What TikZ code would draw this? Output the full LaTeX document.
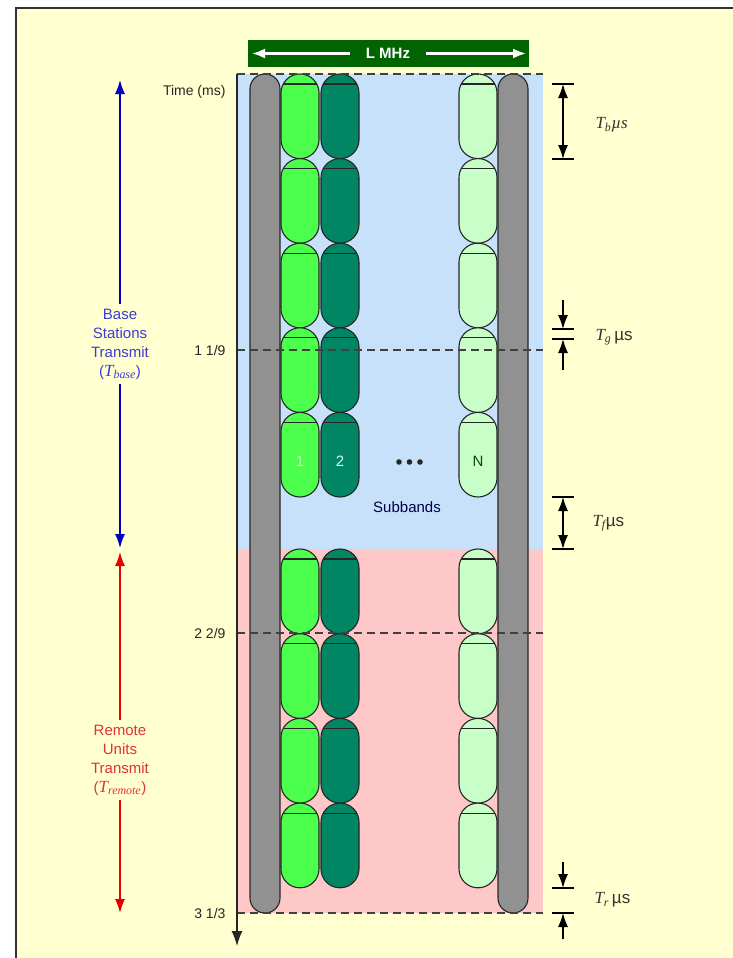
\documentclass[tikz,border=0pt]{standalone}
\usepackage{fontspec}
\setsansfont{Liberation Sans}
\newfontfamily\timesfont{Liberation Serif}
\usetikzlibrary{arrows.meta}

\definecolor{paper}{RGB}{255,255,208}
\definecolor{baseblue}{RGB}{200,225,250}
\definecolor{remotepink}{RGB}{255,200,200}
\definecolor{guardgray}{RGB}{145,145,145}
\definecolor{bandone}{RGB}{76,255,76}
\definecolor{bandtwo}{RGB}{0,134,98}
\definecolor{bandn}{RGB}{200,255,200}
\definecolor{header}{RGB}{0,100,0}
\definecolor{basetext}{RGB}{60,60,215}
\definecolor{remotetext}{RGB}{225,50,50}

\begin{document}
\begin{tikzpicture}[x=1pt, y=-1pt,
    capsule/.style={draw=black!85, line width=1.1pt, rounded corners=18.9pt},
    guard/.style={draw=black!85, line width=1.1pt, fill=guardgray, rounded corners=14.9pt},
    tick/.style={font=\fontsize{14}{16}\selectfont\sffamily, anchor=east, text=black!85},
    span/.style={font=\fontsize{15}{19}\selectfont\sffamily, align=center, inner sep=5pt},
    dimlabel/.style={font=\fontsize{17}{19}\selectfont, anchor=west, text=black!80},
    bar/.style={line width=1.3pt},
    tip/.style={line width=1.3pt, -{Latex[length=14pt,width=10pt]}},
    twotip/.style={line width=1.3pt, {Latex[length=14pt,width=10pt]}-{Latex[length=14pt,width=10pt]}}]
    \useasboundingbox (0,0) rectangle (733,958);

    % Page
    \fill[white] (0,0) rectangle (733,958);
    \fill[paper] (16,8) rectangle (733,958);
    \draw[black!80, line width=1.5pt] (16,958) -- (16,8) -- (733,8);

    % Transmit periods
    \fill[baseblue] (237,74) rectangle (543,549);
    \fill[remotepink] (237,549) rectangle (543,913);

    % Guard bands
    \draw[guard] (250,74) rectangle (280,913);
    \draw[guard] (498,74) rectangle (528,913);

    % Subbands
    \foreach \cx/\col in {300/bandone, 340/bandtwo, 478/bandn} {
        \foreach \k in {0,...,4} {
            \pgfmathsetmacro\ytop{74+84.6*\k}
            \draw[capsule, fill=\col] (\cx-19,\ytop) rectangle (\cx+19,\ytop+84.6);
            \draw[black!85, line width=1.1pt] (\cx-16.7,\ytop+10) -- (\cx+16.7,\ytop+10);
        }
        \foreach \k in {0,...,3} {
            \pgfmathsetmacro\ytop{549+84.7*\k}
            \draw[capsule, fill=\col] (\cx-19,\ytop) rectangle (\cx+19,\ytop+84.7);
            \draw[black!85, line width=1.1pt] (\cx-16.7,\ytop+10) -- (\cx+16.7,\ytop+10);
        }
    }
    \node[font=\fontsize{15}{17}\selectfont\sffamily, text=bandn] (one) at (300,461) {1};
    \node[font=\fontsize{15}{17}\selectfont\sffamily, text=green!10!cyan!15] (two) at (340,461) {2};
    \node[font=\fontsize{15}{17}\selectfont\sffamily, text=header!80!black] (nth) at (478,461) {N};
    \fill[black!85] (399,462) circle (2.8) (409.5,462) circle (2.8) (420,462) circle (2.8);
    \node[font=\fontsize{15}{17}\selectfont\sffamily, text=black!70!blue] (subbands) at (407,507) {Subbands};

    % Frame boundaries
    \draw[black!75, line width=1.1pt, dash pattern=on 8pt off 5pt] (237,74) -- (543,74);
    \draw[black!75, line width=1.1pt, dash pattern=on 8pt off 5pt] (237,350) -- (543,350);
    \draw[black!75, line width=1.1pt, dash pattern=on 8pt off 5pt] (237,633) -- (543,633);
    \draw[black!75, line width=1.1pt, dash pattern=on 8pt off 5pt] (237,913) -- (543,913);

    % Bandwidth header
    \fill[header] (248,40) rectangle (529,67);
    \node[font=\fontsize{15}{17}\selectfont\sffamily\bfseries, text=white] (lmhz) at (388,53.5) {L MHz};
    \coordinate (lmhzleft) at (252,53.5);
    \coordinate (lmhzright) at (526,53.5);
    \draw[white, line width=2.2pt, -{Latex[length=13pt,width=10pt]}] ([xshift=-12pt]lmhz.west) -- (lmhzleft);
    \draw[white, line width=2.2pt, -{Latex[length=13pt,width=10pt]}] ([xshift=12pt]lmhz.east) -- (lmhzright);

    % Time axis
    \coordinate (tzero) at (237,74);
    \coordinate (tend) at (237,946);
    \draw[black!85, line width=1.3pt, -{Latex[length=15pt,width=11pt]}] (tzero) -- (tend);
    \node[tick] (timelabel) at (229,92) {Time (ms)};
    \node[tick] (tone) at (229,350) {1 1/9};
    \node[tick] (ttwo) at (229,633) {2 2/9};
    \node[tick] (tthree) at (229,913) {3 1/3};

    % Base stations transmit
    \node[span, text=basetext] (base) at (120,344) {Base\\Stations\\Transmit\\({\timesfont\itshape\fontsize{17}{19}\selectfont T\textsubscript{base}})};
    \coordinate (basetop) at (120,80);
    \coordinate (basebottom) at (120,548);
    \draw[blue!75!black, tip] (base.north) -- (basetop);
    \draw[blue!75!black, tip] (base.south) -- (basebottom);

    % Remote units transmit
    \node[span, text=remotetext] (remote) at (120,760) {Remote\\Units\\Transmit\\({\timesfont\itshape\fontsize{17}{19}\selectfont T\textsubscript{remote}})};
    \coordinate (remotetop) at (120,552);
    \coordinate (remotebottom) at (120,913);
    \draw[red!90!black, tip] (remote.north) -- (remotetop);
    \draw[red!90!black, tip] (remote.south) -- (remotebottom);

    % Burst length
    \draw[bar] (552,84) -- (574,84);
    \draw[bar] (552,159) -- (574,159);
    \draw[twotip] (563,84) -- (563,159);
    \node[dimlabel] (tb) at (592,125) {{\timesfont\itshape T\textsubscript{b}µs}};

    % Guard time
    \draw[bar] (552,329) -- (574,329);
    \draw[bar] (552,339) -- (574,339);
    \draw[tip] (563,300) -- (563,329);
    \draw[tip] (563,370) -- (563,339);
    \node[dimlabel] (tg) at (592,337) {{\timesfont\itshape T\textsubscript{g}}\,{\sffamily µs}};

    % Turnaround
    \draw[bar] (552,497) -- (574,497);
    \draw[bar] (552,549) -- (574,549);
    \draw[twotip] (563,497) -- (563,549);
    \node[dimlabel] (tf) at (589,523) {{\timesfont\itshape T\textsubscript{f}}{\sffamily µs}};

    % Frame end
    \draw[bar] (552,888) -- (574,888);
    \draw[bar] (552,913) -- (574,913);
    \draw[tip] (563,862) -- (563,888);
    \draw[tip] (563,939) -- (563,913);
    \node[dimlabel] (tr) at (591,900) {{\timesfont\itshape T\textsubscript{r}}\,{\sffamily µs}};
\end{tikzpicture}
\end{document}
